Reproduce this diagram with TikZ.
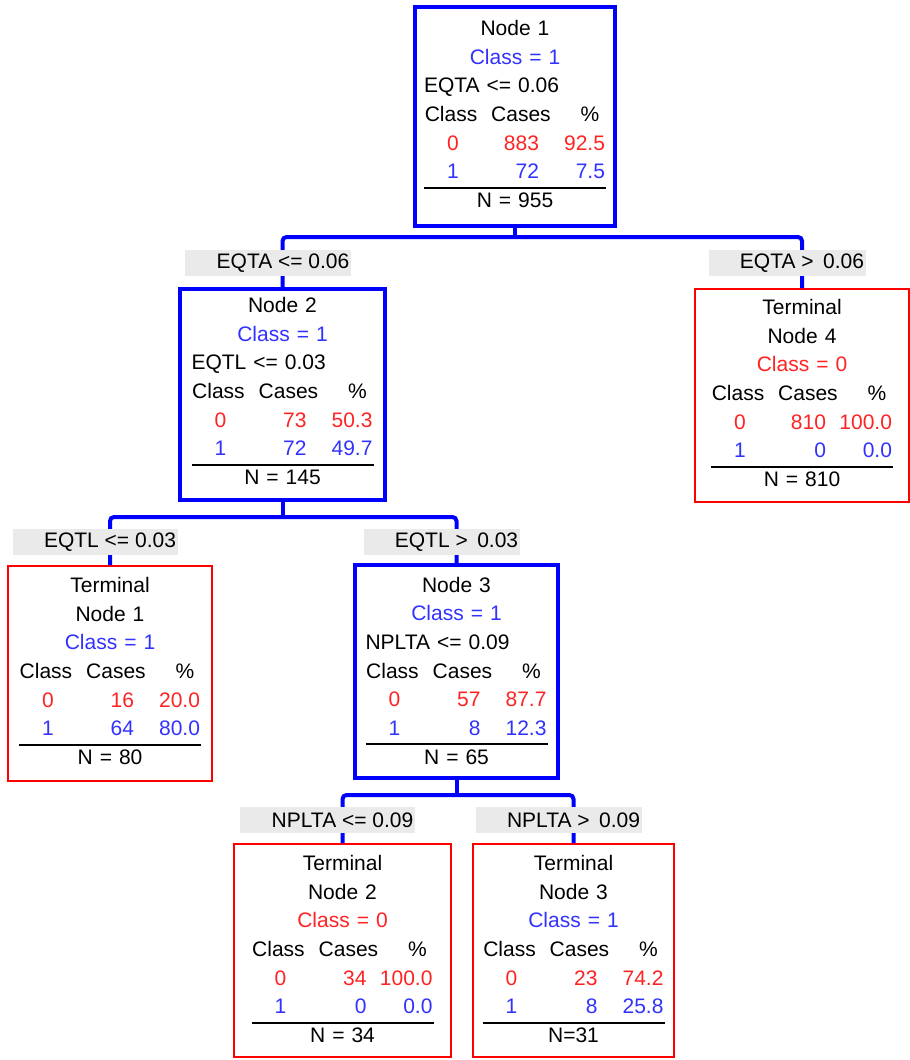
\documentclass[tikz,border=0pt]{standalone}
\usepackage{fontspec}
\setmainfont{Liberation Sans}
\definecolor{bbox}{RGB}{0,0,255}
\definecolor{rbox}{RGB}{255,0,0}
\definecolor{btxt}{RGB}{50,50,255}
\definecolor{rtxt}{RGB}{255,35,35}
\definecolor{labgray}{RGB}{234,234,234}
\newlength\bw \setlength\bw{136.5pt}
\newcommand\tfont{\fontsize{15.75pt}{21.5pt}\selectfont}
\newcommand\boxc[1]{\noindent\vtop{\tfont\baselineskip=21.5pt\lineskiplimit=-10pt #1}}
\newcommand\tline[1]{\hbox to\bw{\hss#1\hss}}
\newcommand\lline[1]{\hbox to\bw{#1\hss}}
\newcommand\hdrline{\hbox to\bw{\hbox to40.5pt{\hss Class\hss}\hbox to64.5pt{\hss Cases\hss}\hbox to0pt{\hskip19.5pt\hbox to0pt{\hss\%\hss}\hss}\hss}}
\newcommand\dataline[4]{\hbox to\bw{\color{#1}\hbox to43.5pt{\hss#2\hss}\hbox to42.75pt{\hss#3}\hbox to49.5pt{\hss#4}\hss}}
\newcommand\nline[1]{\hbox to\bw{\rlap{\rule[13.9pt]{\bw}{1.5pt}}\hss#1\hss}}
\begin{document}
\begin{tikzpicture}[x=0.75pt,y=-0.75pt,
  bluebox/.style={draw=bbox,line width=3pt,inner sep=0pt},
  redbox/.style={draw=rbox,line width=1.5pt,inner sep=0pt},
  content/.style={anchor=base,text width=\bw,inner sep=0pt,font=\tfont},
  conn/.style={draw=bbox,line width=3pt},
  lab/.style={fill=labgray,inner xsep=1.5pt,inner ysep=0pt,minimum height=19.5pt,xshift=-11pt,font=\tfont}]
\fill[white] (0,0) rectangle (910,1060);
\useasboundingbox (0,0) rectangle (910,1060);

% boxes
\node[bluebox,minimum width=150pt,minimum height=164.25pt] (n1) at (515,116.5) {};
\node[bluebox,minimum width=153.75pt,minimum height=158.25pt] (n2) at (282.5,394.5) {};
\node[redbox,minimum width=160.5pt,minimum height=159.75pt] (t4) at (802,395.5) {};
\node[redbox,minimum width=153pt,minimum height=161.25pt] (t1) at (110,673.5) {};
\node[bluebox,minimum width=152.25pt,minimum height=159.75pt] (n3) at (456.5,671.5) {};
\node[redbox,minimum width=162.75pt,minimum height=159.75pt] (t2) at (342.5,950.5) {};
\node[redbox,minimum width=150.75pt,minimum height=159.75pt] (t3) at (573.5,950.5) {};

% connectors
\coordinate (b1) at (515,237);
\coordinate (b2) at (282.5,517);
\coordinate (b3) at (456.5,795);
\draw[conn] (n1.south) -- (b1);
\draw[conn,rounded corners=3pt] (n2.north) |- (b1) -| (t4.north);
\draw[conn] (n2.south) -- (b2);
\draw[conn,rounded corners=3pt] (t1.north) |- (b2) -| (n3.north);
\draw[conn] (n3.south) -- (b3);
\draw[conn,rounded corners=3pt] (t2.north) |- (b3) -| (t3.north);

% split labels
\node[lab] (l1) at (283,263) {\hspace*{22pt}EQTA <= 0.06};
\node[lab] (l2) at (802,263) {\hspace*{22pt}EQTA >\hspace{0.45em}0.06};
\node[lab] (l3) at (110,542) {\hspace*{22pt}EQTL <= 0.03};
\node[lab] (l4) at (456.5,542) {\hspace*{22pt}EQTL >\hspace{0.45em}0.03};
\node[lab] (l5) at (342.5,820) {\hspace*{22pt}NPLTA <= 0.09};
\node[lab] (l6) at (573.5,820) {\hspace*{22pt}NPLTA >\hspace{0.45em}0.09};

% contents
\node[content] (n1c) at (515,35.5) {\boxc{\tline{Node 1}\tline{\color{btxt}Class = 1}\lline{EQTA <= 0.06}\hdrline\dataline{rtxt}{0}{883}{92.5}\dataline{btxt}{1}{72}{7.5}\nline{N = 955}}};
\node[content] (n2c) at (282.5,312.5) {\boxc{\tline{Node 2}\tline{\color{btxt}Class = 1}\lline{EQTL <= 0.03}\hdrline\dataline{rtxt}{0}{73}{50.3}\dataline{btxt}{1}{72}{49.7}\nline{N = 145}}};
\node[content] (t4c) at (802,314.5) {\boxc{\tline{Terminal}\tline{Node 4}\tline{\color{rtxt}Class = 0}\hdrline\dataline{rtxt}{0}{810}{100.0}\dataline{btxt}{1}{0}{0.0}\nline{N = 810}}};
\node[content] (t1c) at (110,592.5) {\boxc{\tline{Terminal}\tline{Node 1}\tline{\color{btxt}Class = 1}\hdrline\dataline{rtxt}{0}{16}{20.0}\dataline{btxt}{1}{64}{80.0}\nline{N = 80}}};
\node[content] (n3c) at (456.5,592) {\boxc{\tline{Node 3}\tline{\color{btxt}Class = 1}\lline{NPLTA <= 0.09}\hdrline\dataline{rtxt}{0}{57}{87.7}\dataline{btxt}{1}{8}{12.3}\nline{N = 65}}};
\node[content] (t2c) at (342.5,870.5) {\boxc{\tline{Terminal}\tline{Node 2}\tline{\color{rtxt}Class = 0}\hdrline\dataline{rtxt}{0}{34}{100.0}\dataline{btxt}{1}{0}{0.0}\nline{N = 34}}};
\node[content] (t3c) at (573.5,870.5) {\boxc{\tline{Terminal}\tline{Node 3}\tline{\color{btxt}Class = 1}\hdrline\dataline{rtxt}{0}{23}{74.2}\dataline{btxt}{1}{8}{25.8}\nline{N=31}}};
\end{tikzpicture}
\end{document}
